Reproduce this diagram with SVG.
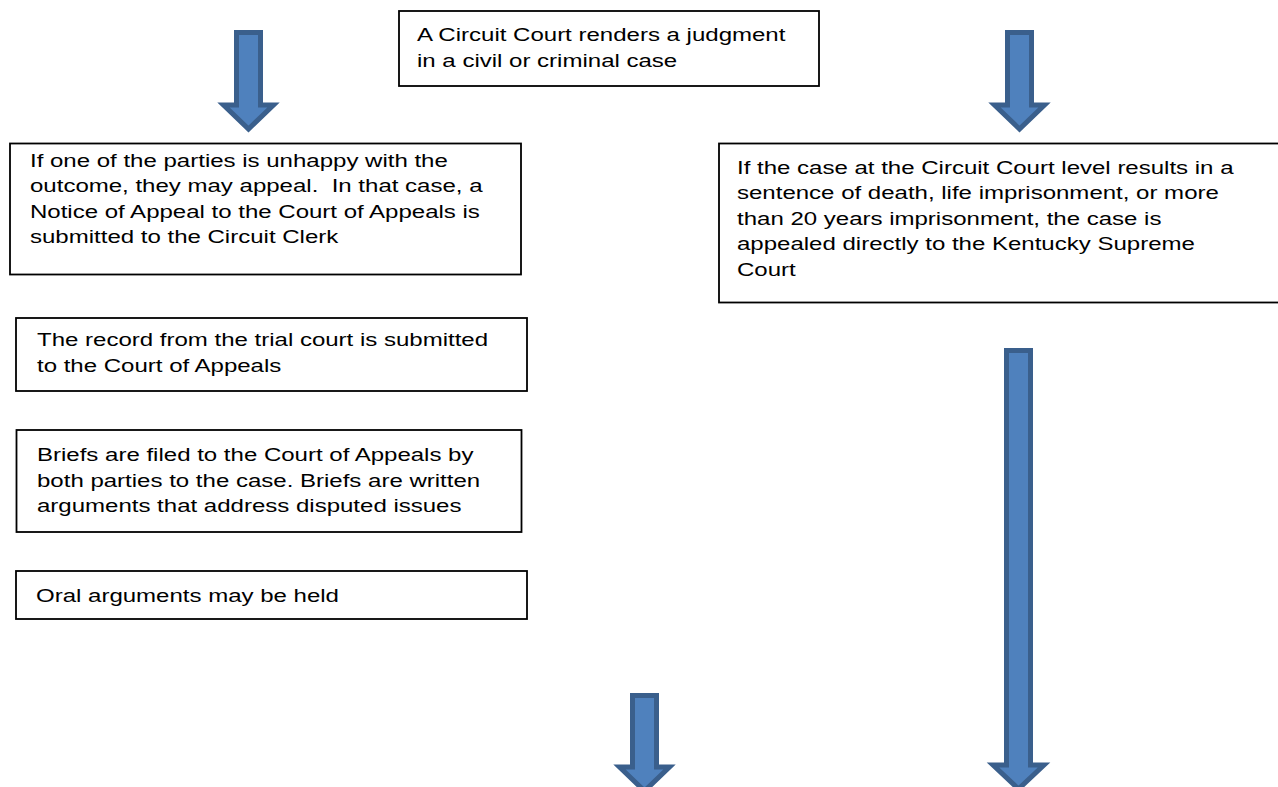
<svg xmlns="http://www.w3.org/2000/svg" width="1278" height="787" viewBox="0 0 1278 787">
<style>
.box{fill:#fff;stroke:#000;stroke-width:1.8}
.t{font-family:"Liberation Sans",Arial,sans-serif;font-size:18.7px;fill:#000;white-space:pre}
.arr{fill:#4F81BD;stroke:#3A5F8C;stroke-width:5;stroke-linejoin:miter}
</style>
<rect width="1278" height="787" fill="#fff"/>
<g id="connectors">
<path class="arr" d="M236.5,32.5 H260.5 V105 H273.5 L248.5,129 L223.5,105 H236.5 Z"/>
<path class="arr" d="M1007.5,32.5 H1031.5 V105 H1044.5 L1019.5,129 L994.5,105 H1007.5 Z"/>
<path class="arr" d="M632.5,695.5 H656.5 V767 H669.5 L644.5,791 L619.5,767 H632.5 Z"/>
<path class="arr" d="M1006.5,350.5 H1030.5 V765 H1044 L1018.5,789 L993,765 H1006.5 Z"/>
</g>
<g id="n1">
<rect class="box" x="399" y="11" width="420" height="75"/>
<text class="t" transform="translate(417,0) scale(1.285,1)"><tspan x="0" y="41.5">A Circuit Court renders a judgment</tspan><tspan x="0" y="67">in a civil or criminal case</tspan></text>
</g>
<g id="n2">
<rect class="box" x="10" y="143.5" width="511" height="131"/>
<text class="t" transform="translate(30,0) scale(1.285,1)" xml:space="preserve"><tspan x="0" y="167">If one of the parties is unhappy with the</tspan><tspan x="0" y="192.5">outcome, they may appeal.  In that case, a</tspan><tspan x="0" y="218">Notice of Appeal to the Court of Appeals is</tspan><tspan x="0" y="243.5">submitted to the Circuit Clerk</tspan></text>
</g>
<g id="n3">
<rect class="box" x="719" y="143.5" width="565" height="159"/>
<text class="t" transform="translate(737,0) scale(1.285,1)"><tspan x="0" y="174">If the case at the Circuit Court level results in a</tspan><tspan x="0" y="199.5">sentence of death, life imprisonment, or more</tspan><tspan x="0" y="225">than 20 years imprisonment, the case is</tspan><tspan x="0" y="250.5">appealed directly to the Kentucky Supreme</tspan><tspan x="0" y="276">Court</tspan></text>
</g>
<g id="n4">
<rect class="box" x="16" y="318" width="511" height="73"/>
<text class="t" transform="translate(37,0) scale(1.285,1)"><tspan x="0" y="346.5">The record from the trial court is submitted</tspan><tspan x="0" y="372">to the Court of Appeals</tspan></text>
</g>
<g id="n5">
<rect class="box" x="16.5" y="430" width="505" height="102"/>
<text class="t" transform="translate(37,0) scale(1.285,1)"><tspan x="0" y="461.5">Briefs are filed to the Court of Appeals by</tspan><tspan x="0" y="487">both parties to the case. Briefs are written</tspan><tspan x="0" y="512.5">arguments that address disputed issues</tspan></text>
</g>
<g id="n6">
<rect class="box" x="16" y="571" width="511" height="48"/>
<text class="t" transform="translate(36,0) scale(1.285,1)"><tspan x="0" y="602.5">Oral arguments may be held</tspan></text>
</g>
</svg>
